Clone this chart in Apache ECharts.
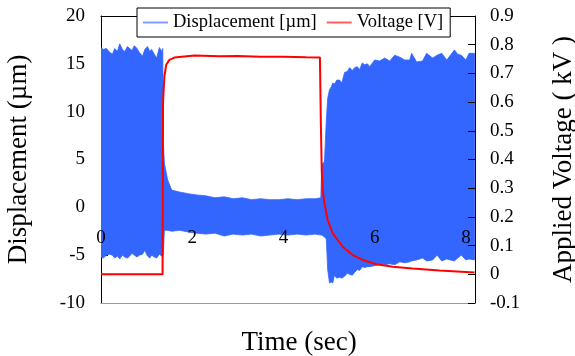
<!DOCTYPE html>
<html><head><meta charset="utf-8">
<script src="https://cdn.jsdelivr.net/npm/echarts@6/dist/echarts.min.js"></script>
<style>html,body{margin:0;padding:0;background:#fff}#c{width:575px;height:356px}</style>
</head><body><div id="c"></div>
<script>
// Displacement envelope (µm) vs time (s)
const dispTime = [0, 0.05, 0.12, 0.19, 0.25, 0.30, 0.36, 0.41, 0.47, 0.52, 0.58, 0.63, 0.68, 0.73, 0.79, 0.84, 0.91, 0.96, 1.02, 1.07, 1.11, 1.17, 1.22, 1.28, 1.33, 1.355,
  1.365,
  1.39, 1.46, 1.55, 1.72, 1.94, 2.1, 2.3, 2.5, 2.7, 2.9, 3.1, 3.3, 3.5, 3.7, 3.9, 4.1, 4.3, 4.5, 4.7, 4.82,
  4.84, 4.87, 4.90, 4.92, 4.94, 4.97, 5.01, 5.05, 5.08, 5.12, 5.17, 5.23, 5.28, 5.34, 5.40, 5.45, 5.51, 5.56, 5.62, 5.67, 5.73, 5.78, 5.84, 5.89, 6.00, 6.11, 6.22, 6.33, 6.44, 6.55, 6.66, 6.77, 6.81, 6.92, 7.05, 7.14, 7.27, 7.37, 7.47, 7.58, 7.66, 7.75, 7.82, 7.90, 8.00, 8.07, 8.19];
const dispUpper = [16.7, 16.5, 16.6, 16.2, 16.0, 16.6, 16.3, 17.1, 16.5, 16.3, 16.8, 16.6, 16.4, 16.9, 16.6, 16.2, 15.8, 16.5, 16.8, 16.3, 16.5, 16.0, 15.6, 16.7, 16.3, 16.6,
  6.8,
  4.6, 2.9, 1.8, 1.6, 1.4, 1.3, 1.2, 1.0, 1.1, 0.9, 1.0, 0.8, 0.9, 0.8, 0.8, 0.9, 0.8, 0.9, 0.9, 1.0,
  4.5, 4.6, 4.8, 7.0, 9.1, 11.4, 12.3, 12.6, 13.0, 12.9, 13.3, 13.3, 13.0, 14.1, 14.2, 14.6, 14.3, 14.6, 14.7, 14.4, 15.1, 14.9, 15.0, 14.7, 15.4, 15.3, 15.6, 15.3, 15.9, 15.7, 15.4, 15.4, 16.1, 15.2, 15.3, 16.1, 15.6, 15.9, 16.1, 15.4, 15.9, 16.45, 16.0, 15.9, 15.4, 16.1, 16.1];
const dispLower = [-5.2, -5.3, -5.0, -4.9, -5.0, -5.3, -5.1, -5.4, -5.0, -5.2, -5.3, -5.1, -4.8, -5.0, -5.2, -5.0, -4.9, -4.5, -5.1, -5.3, -5.0, -5.2, -5.3, -4.9, -5.1, -4.9,
  -5.0,
  -2.4, -2.4, -2.5, -2.4, -2.6, -2.7, -2.8, -2.7, -3.0, -2.8, -2.9, -2.8, -3.0, -2.9, -2.8, -2.9, -2.8, -2.9, -2.8, -2.9,
  -2.9, -3.0, -3.1, -3.2, -3.3, -6.5, -7.9, -7.8, -7.9, -7.1, -7.4, -7.3, -7.4, -7.2, -6.9, -7.0, -7.1, -6.8, -6.5, -6.6, -6.2, -6.3, -6.2, -6.2, -6.1, -6.0, -6.0, -5.9, -6.0, -5.7, -5.8, -5.7, -5.6, -5.5, -5.3, -5.6, -5.5, -5.0, -5.6, -5.4, -5.5, -5.6, -5.3, -5.0, -5.5, -5.4, -5.5];

// Applied voltage (kV) vs time (s)
const voltTime = [0, 1.35, 1.36, 1.39, 1.43, 1.50, 1.61, 2.05, 2.6, 3.0, 3.5, 4.0, 4.5, 4.80, 4.82, 4.84, 4.86, 4.90, 4.97, 5.08, 5.30, 5.52, 5.74, 6.04, 6.40, 6.83, 7.42, 8.19];
const voltValue = [0.0, 0.0, 0.60, 0.69, 0.73, 0.747, 0.755, 0.762, 0.760, 0.761, 0.758, 0.758, 0.756, 0.755, 0.53, 0.36, 0.294, 0.247, 0.189, 0.143, 0.096, 0.067, 0.050, 0.035, 0.026, 0.020, 0.013, 0.006];

const seriesNames = ['Displacement [µm]', 'Voltage [V]'];
const axisNames = { x: 'Time (sec)', yLeft: 'Displacement (µm)', yRight: 'Applied Voltage ( kV )' };

const BLUE = '#3366ff', RED = '#ff0000';
const FONT = "'Liberation Serif','Times New Roman',serif";

const voltData = voltTime.map((t, i) => [t, voltValue[i]]);

function renderBand(params, api) {
  const pts = [];
  for (let i = 0; i < dispTime.length; i++) pts.push(api.coord([dispTime[i], dispUpper[i]]));
  for (let i = dispTime.length - 1; i >= 0; i--) pts.push(api.coord([dispTime[i], dispLower[i]]));
  return {
    type: 'polygon',
    shape: { points: pts },
    style: { fill: BLUE, stroke: BLUE, lineWidth: 0.8 }
  };
}

const chart = echarts.init(document.getElementById('c'), null, { renderer: 'canvas' });
chart.setOption({
  animation: false,
  backgroundColor: '#fff',
  textStyle: { fontFamily: FONT },
  grid: { left: 101, right: 100, top: 16, bottom: 53, containLabel: false, outerBoundsMode: 'none' },
  legend: {
    left: 137, top: 8,
    padding: [5, 7, 5, 6],
    itemGap: 10, itemWidth: 25, itemHeight: 2,
    borderColor: '#000', borderWidth: 1, borderRadius: 0,
    backgroundColor: '#fff',
    textStyle: { fontFamily: FONT, fontSize: 18.5, color: '#000' },
    data: [
      { name: seriesNames[0], icon: 'rect', itemStyle: { color: '#7f9fff' } },
      { name: seriesNames[1], icon: 'rect', itemStyle: { color: '#ff6060' } }
    ],
    z: 10
  },
  xAxis: [{
    type: 'value', position: 'bottom', min: 0, max: 8.2, interval: 2,
    axisLine: { onZero: false, lineStyle: { color: '#999', width: 1 } },
    axisTick: { show: false },
    splitLine: { show: false },
    axisLabel: { margin: -74, fontSize: 19, color: '#000', fontFamily: FONT,
      formatter: v => (Math.abs(v % 2) < 1e-9 ? String(v) : '') },
    name: axisNames.x, nameLocation: 'middle', nameGap: 26,
    nameTextStyle: { fontSize: 27, color: '#000', fontFamily: FONT, padding: [0, 0, 0, 22] },
    z: 3
  }, {
    type: 'value', position: 'top', min: 0, max: 8.2,
    axisLine: { onZero: false, lineStyle: { color: '#000', width: 1 } },
    axisTick: { show: false }, axisLabel: { show: false }, splitLine: { show: false },
    z: 0
  }],
  yAxis: [{
    type: 'value', position: 'left', min: -10, max: 20, interval: 5,
    axisLine: { show: true, onZero: false, lineStyle: { color: '#000', width: 1 } },
    axisTick: { show: true, inside: true, length: 7, lineStyle: { color: '#000' } },
    splitLine: { show: false },
    axisLabel: { margin: 16, fontSize: 19, color: '#000', fontFamily: FONT, padding: [7, 0, 0, 0] },
    name: axisNames.yLeft, nameLocation: 'middle', nameGap: 69,
    nameTextStyle: { fontSize: 27, color: '#000', fontFamily: FONT },
    z: 0
  }, {
    type: 'value', position: 'right', min: -0.1, max: 0.9, interval: 0.1,
    axisLine: { show: true, onZero: false, lineStyle: { color: '#000', width: 1 } },
    axisTick: { show: true, inside: true, length: 7, lineStyle: { color: '#000' } },
    splitLine: { show: false },
    axisLabel: { margin: 15, fontSize: 19, color: '#000', fontFamily: FONT, padding: [7, 0, 0, 0],
      formatter: v => String(Math.round(v * 10) / 10) },
    name: axisNames.yRight, nameLocation: 'middle', nameGap: 75,
    nameTextStyle: { fontSize: 27, color: '#000', fontFamily: FONT },
    z: 4
  }],
  series: [{
    type: 'custom', name: seriesNames[0], xAxisIndex: 0, yAxisIndex: 0,
    data: [[dispTime[0], dispUpper[0]]],
    renderItem: renderBand, clip: true, silent: true,
    itemStyle: { color: BLUE }, z: 2
  }, {
    type: 'line', name: seriesNames[1], data: voltData, xAxisIndex: 0, yAxisIndex: 1,
    symbol: 'none', lineStyle: { color: RED, width: 2 }, itemStyle: { color: RED }, z: 3
  }]
});
</script>
</body></html>
